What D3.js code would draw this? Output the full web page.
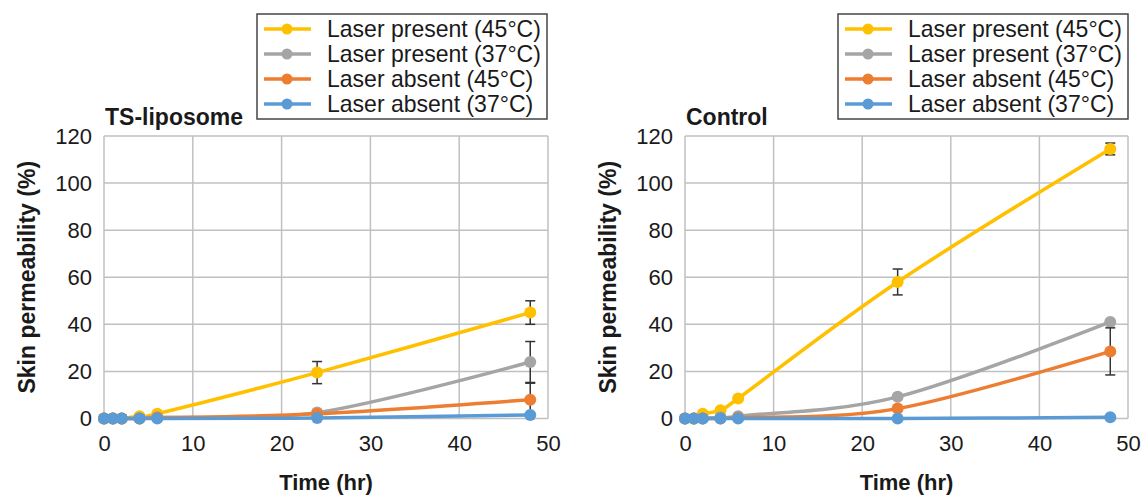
<!DOCTYPE html>
<html>
<head>
<meta charset="utf-8">
<script src="https://cdn.jsdelivr.net/npm/d3@7"></script>
<style>
  html, body { margin: 0; padding: 0; background: #fff; }
  svg { display: block; font-family: "Liberation Sans", Arial, sans-serif; }
</style>
</head>
<body>
<svg id="chart" width="1141" height="495"></svg>
<script>
// ---------- data ----------
const times = [0, 1, 2, 4, 6, 24, 48];
const seriesNames = ["Laser present (45°C)", "Laser present (37°C)", "Laser absent (45°C)", "Laser absent (37°C)"];
const seriesColors = ["#FFC000", "#A5A5A5", "#ED7D31", "#5B9BD5"];

// TS-liposome panel
const tsPresent45 = [0, 0, 0, 1, 2, 19.5, 45];
const tsPresent37 = [0, 0, 0, 0, 0.5, 2.5, 24];
const tsAbsent45  = [0, 0, 0, 0, 0.3, 2, 8];
const tsAbsent37  = [0, 0, 0, 0, 0, 0.2, 1.5];
const tsErrPresent45 = [0, 0, 0, 0, 0, 4.7, 5];
const tsErrPresent37 = [0, 0, 0, 0, 0, 0, 8.7];
const tsErrAbsent45  = [0, 0, 0, 0, 0, 0, 7];
const tsErrAbsent37  = [0, 0, 0, 0, 0, 0, 0];

// Control panel
const ctPresent45 = [0, 0, 2, 3.5, 8.5, 58, 114.5];
const ctPresent37 = [0, 0, 0, 0.5, 1, 9.2, 41];
const ctAbsent45  = [0, 0, 0, 0, 0.3, 4.2, 28.5];
const ctAbsent37  = [0, 0, 0, 0, 0, 0, 0.5];
const ctErrPresent45 = [0, 0, 0, 0, 0, 5.5, 2.5];
const ctErrPresent37 = [0, 0, 0, 0, 0, 0, 0];
const ctErrAbsent45  = [0, 0, 0, 0, 0, 0, 10];
const ctErrAbsent37  = [0, 0, 0, 0, 0, 0, 0];

const xTicks = [0, 10, 20, 30, 40, 50];
const yTicks = [0, 20, 40, 60, 80, 100, 120];
const panelTitles = ["TS-liposome", "Control"];
const xTitle = "Time (hr)";
const yTitle = "Skin permeability (%)";

// ---------- drawing ----------
const svg = d3.select("#chart");
const FONT = 22;
const TEXT = "#1a1a1a";

const panels = [
  { title: panelTitles[0], x0: 104, x1: 548, legendX: 257,
    values: [tsPresent45, tsPresent37, tsAbsent45, tsAbsent37],
    errs: [tsErrPresent45, tsErrPresent37, tsErrAbsent45, tsErrAbsent37] },
  { title: panelTitles[1], x0: 685, x1: 1128, legendX: 838,
    values: [ctPresent45, ctPresent37, ctAbsent45, ctAbsent37],
    errs: [ctErrPresent45, ctErrPresent37, ctErrAbsent45, ctErrAbsent37] }
];

const yTop = 136, yBot = 418.5;

panels.forEach(p => {
  const x = d3.scaleLinear().domain([0, 50]).range([p.x0, p.x1]);
  const y = d3.scaleLinear().domain([0, 120]).range([yBot, yTop]);
  const g = svg.append("g");

  // gridlines
  g.append("g").selectAll("line.vg").data(xTicks).join("line")
    .attr("x1", d => x(d)).attr("x2", d => x(d))
    .attr("y1", yTop).attr("y2", yBot)
    .attr("stroke", "#c0c0c0").attr("stroke-width", 1.5);
  g.append("g").selectAll("line.hg").data(yTicks).join("line")
    .attr("x1", p.x0).attr("x2", p.x1)
    .attr("y1", d => y(d)).attr("y2", d => y(d))
    .attr("stroke", "#c0c0c0").attr("stroke-width", 1.5);

  // axes (labels only)
  const xa = g.append("g").attr("transform", `translate(0,${yBot})`)
    .call(d3.axisBottom(x).tickValues(xTicks).tickSize(0).tickPadding(17));
  const ya = g.append("g").attr("transform", `translate(${p.x0},0)`)
    .call(d3.axisLeft(y).tickValues(yTicks).tickSize(0).tickPadding(12));
  [xa, ya].forEach(a => {
    a.select(".domain").remove();
    a.selectAll("text").attr("font-size", FONT).attr("fill", TEXT)
      .attr("font-family", "Liberation Sans, Arial, sans-serif");
  });

  // panel title
  g.append("text").attr("x", p.x0 + 1).attr("y", 125)
    .attr("font-size", 23).attr("font-weight", "bold").attr("fill", TEXT)
    .text(p.title);

  // axis titles
  g.append("text").attr("x", (p.x0 + p.x1) / 2).attr("y", 490)
    .attr("text-anchor", "middle").attr("font-size", FONT).attr("font-weight", "bold")
    .attr("fill", TEXT).text(xTitle);
  g.append("text")
    .attr("transform", `translate(${p.x0 - 69},${(yTop + yBot) / 2}) rotate(-90)`)
    .attr("text-anchor", "middle").attr("font-size", 23).attr("font-weight", "bold")
    .attr("fill", TEXT).text(yTitle);

  // series
  const line = d3.line().x(d => x(d[0])).y(d => y(d[1])).curve(d3.curveCatmullRom.alpha(0));
  p.values.forEach((vals, si) => {
    const pts = times.map((t, i) => [t, vals[i], p.errs[si][i]]);
    const sg = g.append("g");
    sg.append("path").datum(pts).attr("d", line)
      .attr("fill", "none").attr("stroke", seriesColors[si]).attr("stroke-width", 3.5)
      .attr("stroke-linejoin", "round");
    const eb = pts.filter(d => d[2] > 0);
    const ebg = sg.append("g").attr("stroke", "#333").attr("stroke-width", 1.5);
    ebg.selectAll("line.v").data(eb).join("line")
      .attr("x1", d => x(d[0])).attr("x2", d => x(d[0]))
      .attr("y1", d => y(d[1] - d[2])).attr("y2", d => y(d[1] + d[2]));
    ebg.selectAll("line.t").data(eb).join("line")
      .attr("x1", d => x(d[0]) - 5).attr("x2", d => x(d[0]) + 5)
      .attr("y1", d => y(d[1] + d[2])).attr("y2", d => y(d[1] + d[2]));
    ebg.selectAll("line.b").data(eb).join("line")
      .attr("x1", d => x(d[0]) - 5).attr("x2", d => x(d[0]) + 5)
      .attr("y1", d => y(d[1] - d[2])).attr("y2", d => y(d[1] - d[2]));
    sg.selectAll("circle").data(pts).join("circle")
      .attr("cx", d => x(d[0])).attr("cy", d => y(d[1])).attr("r", 6)
      .attr("fill", seriesColors[si]);
  });

  // legend
  const lg = g.append("g");
  lg.append("rect").attr("x", p.legendX).attr("y", 14).attr("width", 290).attr("height", 105)
    .attr("fill", "#fff").attr("stroke", "#444").attr("stroke-width", 1.5);
  const tg = lg.append("g");
  seriesNames.forEach((name, i) => {
    const cy = 29 + i * 25;
    lg.append("line").attr("x1", p.legendX + 7).attr("x2", p.legendX + 54)
      .attr("y1", cy).attr("y2", cy).attr("stroke", seriesColors[i]).attr("stroke-width", 3.5);
    lg.append("circle").attr("cx", p.legendX + 30).attr("cy", cy).attr("r", 5.5)
      .attr("fill", seriesColors[i]);
    tg.append("text").attr("x", 0).attr("y", cy).attr("dy", "0.35em")
      .attr("font-size", 23).attr("fill", TEXT).text(name);
  });
  // stretch legend text horizontally to the reference width
  const w0 = tg.select("text").node().getComputedTextLength();
  const k = 214 / w0;
  tg.attr("transform", `translate(${p.legendX + 70},0) scale(${k},1)`);
});
</script>
</body>
</html>
